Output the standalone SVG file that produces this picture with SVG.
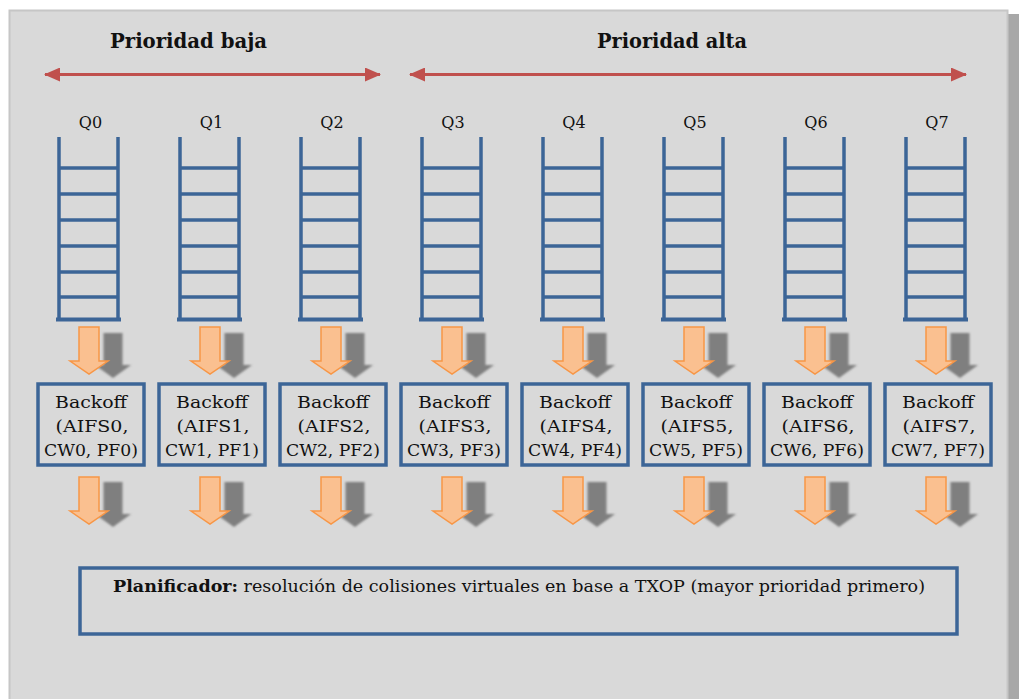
<svg xmlns="http://www.w3.org/2000/svg" xmlns:xlink="http://www.w3.org/1999/xlink" width="1019" height="699" viewBox="0 0 1019 699">
<style>
.title{font-family:"DejaVu Serif","Liberation Serif",serif;font-weight:bold;font-size:20px;fill:#111;}
.q{font-family:"DejaVu Serif","Liberation Serif",serif;font-size:16px;fill:#111;text-anchor:middle;}
.bt{font-family:"DejaVu Serif","Liberation Serif",serif;font-size:17px;fill:#111;text-anchor:middle;}
.pt{font-family:"DejaVu Serif","Liberation Serif",serif;font-size:16.5px;fill:#111;}
.rail{stroke:#3c6597;stroke-width:3.5;fill:none;}
.box{fill:#d9d9d9;stroke:#3c6597;stroke-width:3.5;}
.red{stroke:#c0504d;stroke-width:3;fill:none;}
.or{fill:#fac090;stroke:#f79646;stroke-width:1.5;}
.gr{fill:#7f7f7f;}
</style>
<defs>
<marker id="rh" markerWidth="16" markerHeight="14" refX="15" refY="7" orient="auto-start-reverse" markerUnits="userSpaceOnUse">
<path d="M0,0 L16,7 L0,14 Z" fill="#c0504d"/>
</marker>
<path id="oa" d="M-10,0 H10 V34 H19 L0,47 L-19,34 H-10 Z"/>
<path id="ga" d="M-9.5,0 H9.5 V32 H18 L0,45 L-18,32 H-9.5 Z"/>
<g id="ladder">
<path class="rail" d="M0,137 V319 M59,137 V319 M0,168 H59 M0,194 H59 M0,220 H59 M0,246 H59 M0,272 H59 M0,297 H59"/>
<path d="M-3,319.5 H62" stroke="#3c6597" stroke-width="4" fill="none"/>
</g>
<filter id="blur" x="-20%" y="-20%" width="140%" height="140%"><feGaussianBlur stdDeviation="0.8"/></filter>
</defs>
<rect x="0" y="0" width="1019" height="699" fill="#ffffff"/>
<rect x="1007" y="14" width="12" height="690" fill="#a8a8a8"/>
<rect x="9.5" y="10.5" width="998" height="700" fill="#d9d9d9" stroke="#c6c6c6" stroke-width="2"/>

<g id="labels">
<text class="title" x="110" y="48" textLength="157" lengthAdjust="spacingAndGlyphs">Prioridad baja</text>
<text class="title" x="597" y="48" textLength="150" lengthAdjust="spacingAndGlyphs">Prioridad alta</text>
</g>
<g id="priority-arrows">
<line class="red" x1="45" y1="74.5" x2="380" y2="74.5" marker-start="url(#rh)" marker-end="url(#rh)"/>
<line class="red" x1="410" y1="74.5" x2="966" y2="74.5" marker-start="url(#rh)" marker-end="url(#rh)"/>
</g>

<g id="q0"><text class="q" x="90.5" y="128">Q0</text><use xlink:href="#ladder" x="59"/></g>
<g id="q1"><text class="q" x="211.5" y="128">Q1</text><use xlink:href="#ladder" x="180"/></g>
<g id="q2"><text class="q" x="332" y="128">Q2</text><use xlink:href="#ladder" x="301"/></g>
<g id="q3"><text class="q" x="453" y="128">Q3</text><use xlink:href="#ladder" x="422"/></g>
<g id="q4"><text class="q" x="574" y="128">Q4</text><use xlink:href="#ladder" x="543"/></g>
<g id="q5"><text class="q" x="695" y="128">Q5</text><use xlink:href="#ladder" x="664"/></g>
<g id="q6"><text class="q" x="816" y="128">Q6</text><use xlink:href="#ladder" x="785"/></g>
<g id="q7"><text class="q" x="937" y="128">Q7</text><use xlink:href="#ladder" x="906"/></g>

<g id="b0"><rect class="box" x="38" y="384" width="106" height="81"/><text class="bt" x="91" y="408" textLength="72" lengthAdjust="spacingAndGlyphs">Backoff</text><text class="bt" x="92" y="432" textLength="73" lengthAdjust="spacingAndGlyphs">(AIFS0,</text><text class="bt" x="91" y="456" textLength="94" lengthAdjust="spacingAndGlyphs">CW0, PF0)</text></g>
<g id="b1"><rect class="box" x="159" y="384" width="106" height="81"/><text class="bt" x="212" y="408" textLength="72" lengthAdjust="spacingAndGlyphs">Backoff</text><text class="bt" x="213" y="432" textLength="73" lengthAdjust="spacingAndGlyphs">(AIFS1,</text><text class="bt" x="212" y="456" textLength="94" lengthAdjust="spacingAndGlyphs">CW1, PF1)</text></g>
<g id="b2"><rect class="box" x="280" y="384" width="106" height="81"/><text class="bt" x="333" y="408" textLength="72" lengthAdjust="spacingAndGlyphs">Backoff</text><text class="bt" x="334" y="432" textLength="73" lengthAdjust="spacingAndGlyphs">(AIFS2,</text><text class="bt" x="333" y="456" textLength="94" lengthAdjust="spacingAndGlyphs">CW2, PF2)</text></g>
<g id="b3"><rect class="box" x="401" y="384" width="106" height="81"/><text class="bt" x="454" y="408" textLength="72" lengthAdjust="spacingAndGlyphs">Backoff</text><text class="bt" x="455" y="432" textLength="73" lengthAdjust="spacingAndGlyphs">(AIFS3,</text><text class="bt" x="454" y="456" textLength="94" lengthAdjust="spacingAndGlyphs">CW3, PF3)</text></g>
<g id="b4"><rect class="box" x="522" y="384" width="106" height="81"/><text class="bt" x="575" y="408" textLength="72" lengthAdjust="spacingAndGlyphs">Backoff</text><text class="bt" x="576" y="432" textLength="73" lengthAdjust="spacingAndGlyphs">(AIFS4,</text><text class="bt" x="575" y="456" textLength="94" lengthAdjust="spacingAndGlyphs">CW4, PF4)</text></g>
<g id="b5"><rect class="box" x="643" y="384" width="106" height="81"/><text class="bt" x="696" y="408" textLength="72" lengthAdjust="spacingAndGlyphs">Backoff</text><text class="bt" x="697" y="432" textLength="73" lengthAdjust="spacingAndGlyphs">(AIFS5,</text><text class="bt" x="696" y="456" textLength="94" lengthAdjust="spacingAndGlyphs">CW5, PF5)</text></g>
<g id="b6"><rect class="box" x="764" y="384" width="106" height="81"/><text class="bt" x="817" y="408" textLength="72" lengthAdjust="spacingAndGlyphs">Backoff</text><text class="bt" x="818" y="432" textLength="73" lengthAdjust="spacingAndGlyphs">(AIFS6,</text><text class="bt" x="817" y="456" textLength="94" lengthAdjust="spacingAndGlyphs">CW6, PF6)</text></g>
<g id="b7"><rect class="box" x="885" y="384" width="106" height="81"/><text class="bt" x="938" y="408" textLength="72" lengthAdjust="spacingAndGlyphs">Backoff</text><text class="bt" x="939" y="432" textLength="73" lengthAdjust="spacingAndGlyphs">(AIFS7,</text><text class="bt" x="938" y="456" textLength="94" lengthAdjust="spacingAndGlyphs">CW7, PF7)</text></g>

<g id="scheduler"><rect class="box" x="80" y="568" width="877" height="66"/><text class="pt" x="113" y="592" textLength="812" lengthAdjust="spacingAndGlyphs"><tspan font-weight="bold">Planificador:</tspan> resolución de colisiones virtuales en base a TXOP (mayor prioridad primero)</text></g>

<g id="connectors">
<g class="gr" filter="url(#blur)">
<use xlink:href="#ga" x="113" y="333"/><use xlink:href="#ga" x="234" y="333"/><use xlink:href="#ga" x="355" y="333"/><use xlink:href="#ga" x="476" y="333"/><use xlink:href="#ga" x="597" y="333"/><use xlink:href="#ga" x="718" y="333"/><use xlink:href="#ga" x="839" y="333"/><use xlink:href="#ga" x="960" y="333"/>
<use xlink:href="#ga" x="113" y="482"/><use xlink:href="#ga" x="234" y="482"/><use xlink:href="#ga" x="355" y="482"/><use xlink:href="#ga" x="476" y="482"/><use xlink:href="#ga" x="597" y="482"/><use xlink:href="#ga" x="718" y="482"/><use xlink:href="#ga" x="839" y="482"/><use xlink:href="#ga" x="960" y="482"/>
</g>
<g class="or">
<use xlink:href="#oa" x="89" y="327"/><use xlink:href="#oa" x="210" y="327"/><use xlink:href="#oa" x="331" y="327"/><use xlink:href="#oa" x="452" y="327"/><use xlink:href="#oa" x="573" y="327"/><use xlink:href="#oa" x="694" y="327"/><use xlink:href="#oa" x="815" y="327"/><use xlink:href="#oa" x="936" y="327"/>
<use xlink:href="#oa" x="89" y="477"/><use xlink:href="#oa" x="210" y="477"/><use xlink:href="#oa" x="331" y="477"/><use xlink:href="#oa" x="452" y="477"/><use xlink:href="#oa" x="573" y="477"/><use xlink:href="#oa" x="694" y="477"/><use xlink:href="#oa" x="815" y="477"/><use xlink:href="#oa" x="936" y="477"/>
</g>
</g>
</svg>
